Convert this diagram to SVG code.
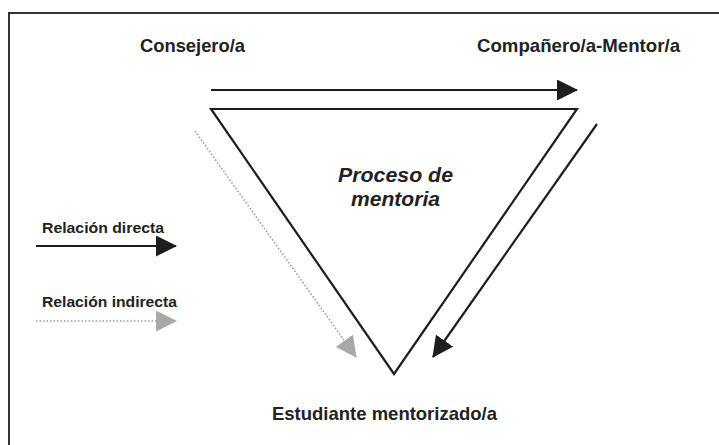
<svg xmlns="http://www.w3.org/2000/svg" width="719" height="445" viewBox="0 0 719 445">
<style>
.t{font-family:"Liberation Sans",Arial,sans-serif;font-weight:bold;fill:#222}
.solid{stroke:#1e1e1e;stroke-width:2.2;fill:none}
.dot{stroke:#9a9a9a;stroke-width:1.6;stroke-dasharray:1.5 2;fill:none}
</style>
<defs>
<marker id="ab" markerUnits="userSpaceOnUse" markerWidth="21" markerHeight="21" refX="20" refY="10.5" orient="auto" viewBox="0 0 21 21"><path d="M0,0 L21,10.5 L0,21 z" fill="#1e1e1e"/></marker>
<marker id="ag" markerUnits="userSpaceOnUse" markerWidth="21" markerHeight="21" refX="20" refY="10.5" orient="auto" viewBox="0 0 21 21"><path d="M0,0 L21,10.5 L0,21 z" fill="#a8a8a8"/></marker>
</defs>
<rect width="719" height="445" fill="#fff"/>
<path d="M9,445 V13 H719" stroke="#333" stroke-width="2" fill="none"/>
<g id="consejero"><text class="t" x="140" y="52" font-size="18.5" textLength="105" lengthAdjust="spacingAndGlyphs">Consejero/a</text></g>
<g id="companero"><text class="t" x="477" y="52" font-size="18.5" textLength="203" lengthAdjust="spacingAndGlyphs">Compañero/a-Mentor/a</text></g>
<g id="proceso">
<polygon points="211,109 577,109 394,374" class="solid"/>
<text class="t" font-style="italic" font-size="21" x="338" y="182" textLength="115" lengthAdjust="spacingAndGlyphs">Proceso de</text>
<text class="t" font-style="italic" font-size="21" x="351" y="206" textLength="89" lengthAdjust="spacingAndGlyphs">mentoria</text>
</g>
<g id="estudiante"><text class="t" x="272" y="420" font-size="18.5" textLength="225" lengthAdjust="spacingAndGlyphs">Estudiante mentorizado/a</text></g>
<g id="leyenda">
<text class="t" x="42" y="233" font-size="15" textLength="122" lengthAdjust="spacingAndGlyphs">Relación directa</text>
<text class="t" x="42" y="307" font-size="15" textLength="135" lengthAdjust="spacingAndGlyphs">Relación indirecta</text>
</g>
<g id="connectors">
<line x1="211" y1="90" x2="577" y2="90" class="solid" marker-end="url(#ab)"/>
<line x1="597" y1="124" x2="433" y2="357" class="solid" marker-end="url(#ab)"/>
<line x1="195" y1="131" x2="356" y2="357" class="dot" marker-end="url(#ag)"/>
<line x1="36" y1="246" x2="176" y2="246" class="solid" marker-end="url(#ab)"/>
<line x1="36" y1="321" x2="176" y2="321" class="dot" marker-end="url(#ag)"/>
</g>
</svg>
